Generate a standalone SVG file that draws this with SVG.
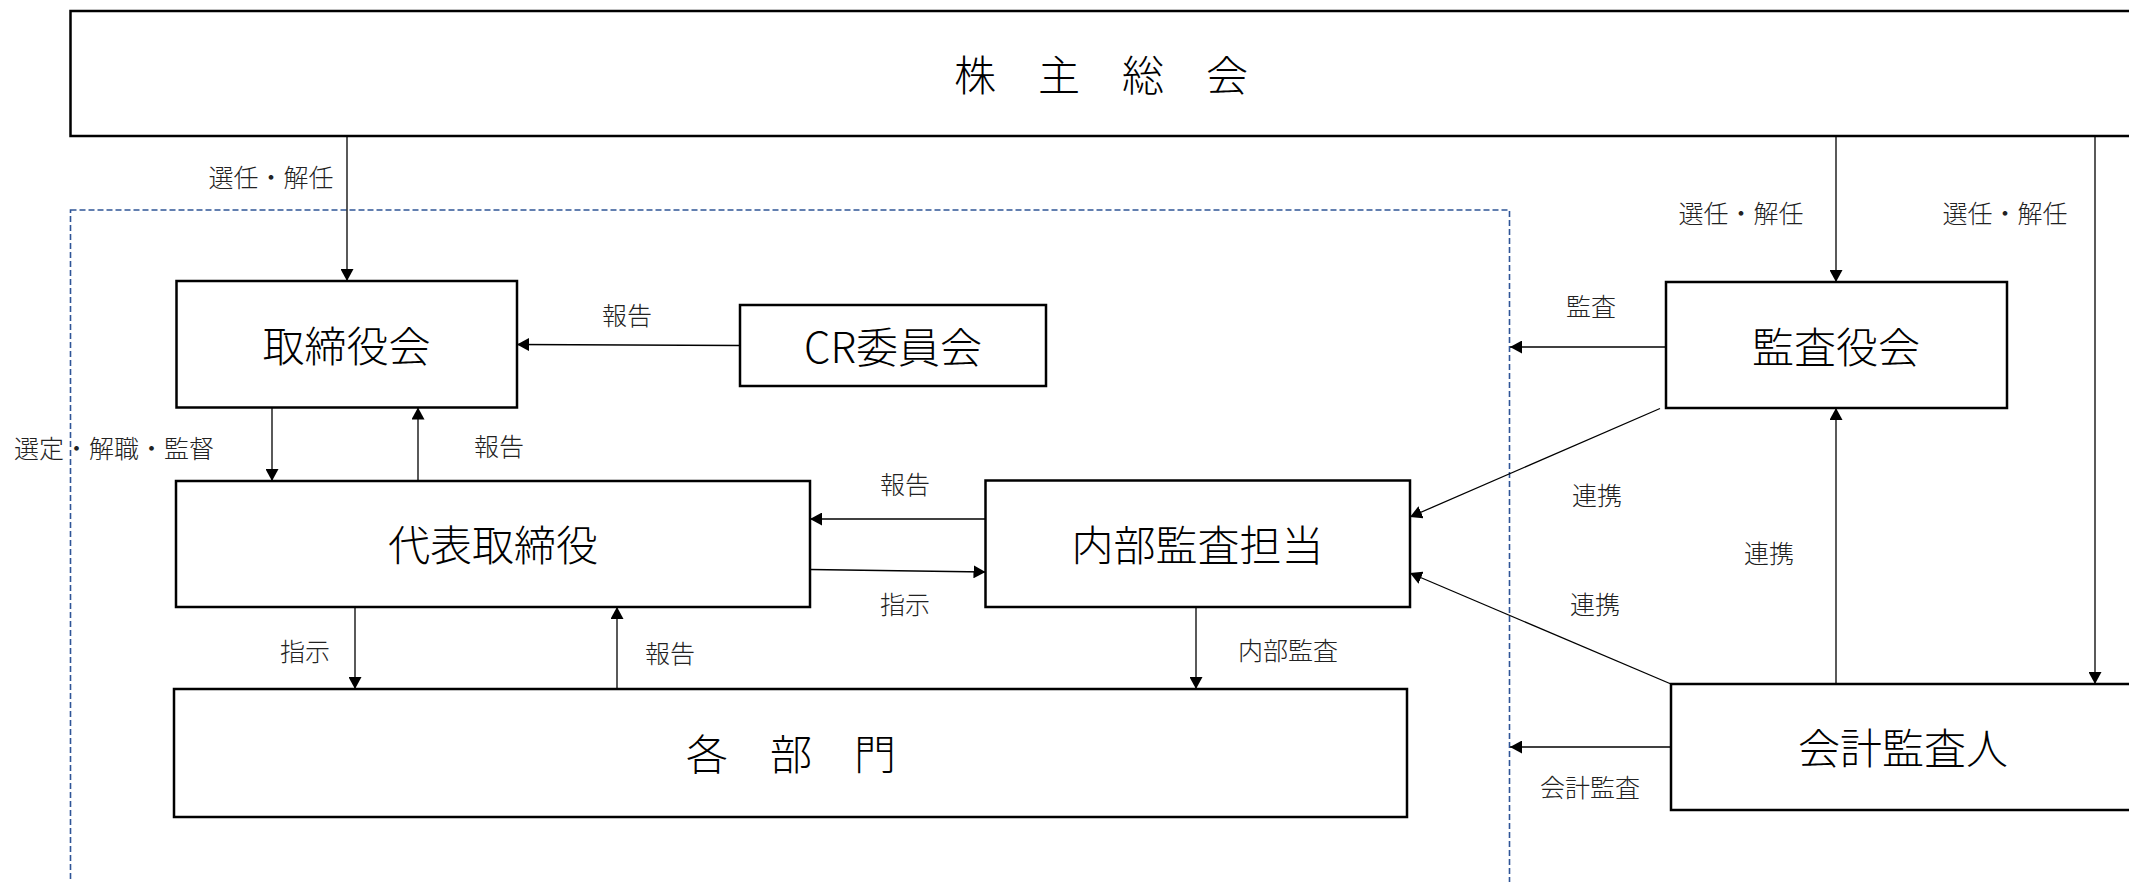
<svg xmlns="http://www.w3.org/2000/svg" width="2129" height="882" viewBox="0 0 2129 882">
<defs>
<marker id="arr" markerUnits="userSpaceOnUse" markerWidth="13" markerHeight="13" refX="12" refY="6.5" orient="auto">
<path d="M0,0 L12,6.5 L0,13 Z" fill="#000"/>
</marker>
<style>
.box{fill:#fff;stroke:#000;stroke-width:2.5}
.bt{font-family:"Noto Sans CJK JP","Noto Sans CJK SC",sans-serif;font-size:42px;font-weight:300;fill:#000;text-anchor:middle;dominant-baseline:central}
.lb{font-family:"Noto Sans CJK JP","Noto Sans CJK SC",sans-serif;font-size:25px;font-weight:300;fill:#222;text-anchor:middle;dominant-baseline:central}
.cn{fill:none;stroke:#000;stroke-width:1.3;marker-end:url(#arr)}
</style>
</defs>
<rect width="2129" height="882" fill="#fff"/>
<g id="group-boundary">
<rect x="70.5" y="210" width="1439" height="700" fill="none" stroke="#2F5597" stroke-width="1.6" stroke-dasharray="6,3"/>
</g>
<g id="shareholders">
<rect class="box" x="70.5" y="11" width="2080" height="125"/>
<text class="bt" x="1101" y="72">株　主　総　会</text>
</g>
<g id="board">
<rect class="box" x="176.5" y="281" width="340.5" height="126.5"/>
<text class="bt" x="346.5" y="343">取締役会</text>
</g>
<g id="cr-committee">
<rect class="box" x="740" y="305" width="306" height="81"/>
<text class="bt" x="893" y="344">CR委員会</text>
</g>
<g id="ceo">
<rect class="box" x="176" y="481" width="634" height="126"/>
<text class="bt" x="493" y="542">代表取締役</text>
</g>
<g id="internal-audit">
<rect class="box" x="985.5" y="480.5" width="424.5" height="126.5"/>
<text class="bt" x="1197.5" y="542">内部監査担当</text>
</g>
<g id="departments">
<rect class="box" x="174" y="689" width="1233" height="128"/>
<text class="bt" x="791" y="751">各　部　門</text>
</g>
<g id="auditors">
<rect class="box" x="1666" y="282" width="341" height="126"/>
<text class="bt" x="1836" y="344">監査役会</text>
</g>
<g id="accounting-auditor">
<rect class="box" x="1671" y="684" width="480" height="126"/>
<text class="bt" x="1903" y="745">会計監査人</text>
</g>
<g id="connectors">
<path class="cn" d="M347,137 L347,281"/>
<path class="cn" d="M1836,137 L1836,282"/>
<path class="cn" d="M2095,137 L2095,684"/>
<path class="cn" d="M740,345.5 L517,344.5"/>
<path class="cn" d="M272,407.5 L272,481"/>
<path class="cn" d="M418,481 L418,407.5"/>
<path class="cn" d="M985.5,519 L810,519"/>
<path class="cn" d="M810,569.5 L985.5,572"/>
<path class="cn" d="M355,607 L355,689"/>
<path class="cn" d="M617,689 L617,607"/>
<path class="cn" d="M1196,607 L1196,689"/>
<path class="cn" d="M1666,347 L1510,347"/>
<path class="cn" d="M1660,408.5 L1410,517"/>
<path class="cn" d="M1836,684 L1836,408"/>
<path class="cn" d="M1671,684 L1410,573"/>
<path class="cn" d="M1671,747 L1510,747"/>
</g>
<g id="labels">
<text class="lb" x="271" y="176">選任・解任</text>
<text class="lb" x="1741" y="212">選任・解任</text>
<text class="lb" x="2005" y="212">選任・解任</text>
<text class="lb" x="627" y="314">報告</text>
<text class="lb" x="114" y="447">選定・解職・監督</text>
<text class="lb" x="499" y="445">報告</text>
<text class="lb" x="905" y="483">報告</text>
<text class="lb" x="905" y="603">指示</text>
<text class="lb" x="305" y="650">指示</text>
<text class="lb" x="670" y="652">報告</text>
<text class="lb" x="1288" y="649">内部監査</text>
<text class="lb" x="1591" y="305">監査</text>
<text class="lb" x="1597" y="494">連携</text>
<text class="lb" x="1769" y="552">連携</text>
<text class="lb" x="1595" y="603">連携</text>
<text class="lb" x="1590" y="786">会計監査</text>
</g>
</svg>
